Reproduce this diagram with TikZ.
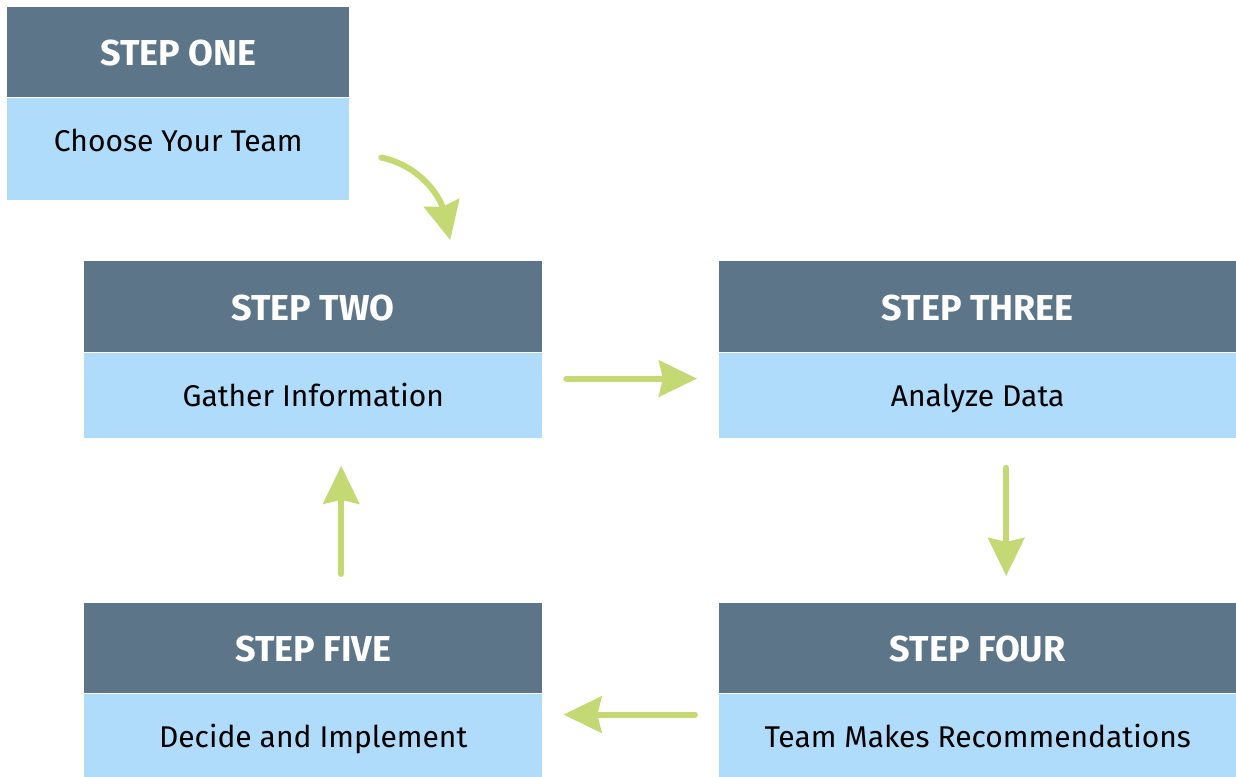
\documentclass[tikz,border=0pt]{standalone}
\usepackage{fontspec}
\setmainfont{Fira Sans}
\usetikzlibrary{arrows.meta}

\definecolor{headgray}{HTML}{5D7588}
\definecolor{bodyblue}{HTML}{B0DCFC}
\definecolor{arrowgreen}{HTML}{C4D974}

\begin{document}
\begin{tikzpicture}[x=1pt,y=1pt,
  head/.style={fill=headgray,text=white,inner sep=0pt,anchor=north west,
    text height=27pt,text depth=0pt,
    font=\fontsize{36}{40}\selectfont\bfseries},
  body/.style={fill=bodyblue,inner sep=0pt,anchor=north},
  bodytext/.style={anchor=base,inner sep=0pt,font=\fontsize{30}{34}\selectfont},
  flow/.style={draw=arrowgreen,line width=6pt,line cap=round,
    -{Stealth[length=38pt,width=36pt,inset=4pt]}}]
\useasboundingbox (0,0) rectangle (1236,776);
% #1 name, #2 top left corner, #3 width, #4/#5 heights, #6 title, #7 text
\def\stepbox#1#2#3#4#5#6#7{
  \node[head,minimum width=#3,minimum height=#4] at (#2) (#1 head) {#6};
  \node[body,minimum width=#3,minimum height=#5] at (#1 head.south) (#1 body) {};
  \node[bodytext] at ([yshift=-54.5pt]#1 head.south) (#1 text) {#7};}

\stepbox{one}{7,769}{342}{90}{102}{STEP ONE}{Choose Your Team}
\stepbox{two}{84,515}{458}{91}{85}{STEP TWO}{Gather Information}
\stepbox{three}{719,515}{517}{91}{85}{STEP THREE}{Analyze Data}
\stepbox{four}{719,173}{517}{90}{83}{STEP FOUR}{Team Makes Recommendations}
\stepbox{five}{84,173}{458}{90}{83}{STEP FIVE}{Decide and Implement}

% one -> two
\draw[flow] ([xshift=32pt,yshift=-9pt]one body.east) to[out=-12,in=103]
  ([xshift=137pt,yshift=21pt]two head.north);
% two -> three
\draw[flow] ([xshift=24pt,yshift=16.5pt]two body.east) --
  ([xshift=-22pt,yshift=16.5pt]three body.west);
% three -> four
\draw[flow] ([xshift=28.5pt,yshift=-30pt]three body.south) --
  ([xshift=28.5pt,yshift=27pt]four head.north);
% four -> five
\draw[flow] ([xshift=-24pt,yshift=20.5pt]four body.west) --
  ([xshift=21pt,yshift=20.5pt]five body.east);
% five -> two
\draw[flow] ([xshift=28pt,yshift=29pt]five head.north) --
  ([xshift=28pt,yshift=-28pt]two body.south);
\end{tikzpicture}
\end{document}
